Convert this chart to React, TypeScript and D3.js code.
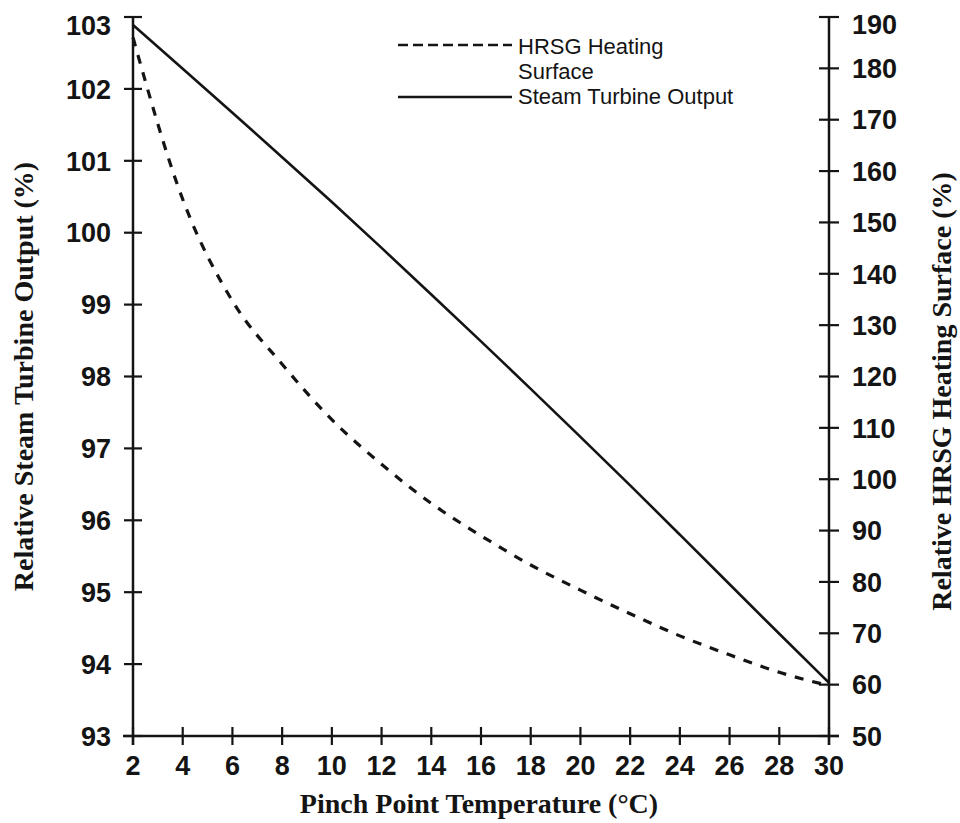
import React from 'react'
import * as d3 from 'd3'

const W = 960
const H = 823

// pinch point temperature (°C)
const temps = [2, 4, 6, 8, 10, 12, 14, 16, 18, 20, 22, 24, 26, 28, 30]
// relative steam turbine output (%), left axis
const turbineOutput = [102.89, 102.28, 101.67, 101.05, 100.43, 99.79, 99.14, 98.49, 97.83, 97.16, 96.49, 95.8, 95.11, 94.42, 93.74]
// relative HRSG heating surface (%), right axis
const heatingSurface = [186, 154.5, 134.7, 122.4, 111.6, 102.9, 95.3, 89, 83.3, 78.4, 73.8, 69.5, 65.8, 62.4, 59.8]

const xTicks = [2, 4, 6, 8, 10, 12, 14, 16, 18, 20, 22, 24, 26, 28, 30]
const leftTicks = [93, 94, 95, 96, 97, 98, 99, 100, 101, 102, 103]
const rightTicks = [50, 60, 70, 80, 90, 100, 110, 120, 130, 140, 150, 160, 170, 180, 190]

const left = 133
const right = 829
const top = 17
const bottom = 736

const x = d3.scaleLinear().domain([2, 30]).range([left, right])
const yL = d3.scaleLinear().domain([93, 103]).range([bottom, top])
const yR = d3.scaleLinear().domain([50, 190]).range([bottom, top])

const ink = '#141414'
const sans = '"Liberation Sans", Arial, sans-serif'
const serif = '"Liberation Serif", "Times New Roman", serif'

export default function App() {
  const solid = d3.line<number>()
    .x((_, i) => x(temps[i]))
    .y(d => yL(d))
    .curve(d3.curveBasis)(turbineOutput)

  const dashed = d3.line<number>()
    .x((_, i) => x(temps[i]))
    .y(d => yR(d))
    .curve(d3.curveMonotoneX)(heatingSurface)

  return (
    <svg width={W} height={H} style={{ position: 'fixed', left: 0, top: 0, background: '#fff' }}>
      <rect width={W} height={H} fill="#fff" />

      {/* left axis */}
      <line x1={left} x2={left} y1={top} y2={bottom + 9} stroke={ink} strokeWidth={2.5} />
      {leftTicks.map((t, i) => (
        <g key={'l' + t}>
          <line x1={left - 9} x2={left + 9} y1={yL(t)} y2={yL(t)} stroke={ink} strokeWidth={2.2} />
          <text x={left - 22} y={yL(t) + (i === leftTicks.length - 1 ? 8 : 0)} dy="0.36em" textAnchor="end"
            style={{ font: `bold 27px ${sans}`, fill: ink }}>{t}</text>
        </g>
      ))}

      {/* right axis */}
      <line x1={right} x2={right} y1={top} y2={bottom + 9} stroke={ink} strokeWidth={2.5} />
      {rightTicks.map((t, i) => (
        <g key={'r' + t}>
          <line x1={right - 10} x2={right + 10} y1={yR(t)} y2={yR(t)} stroke={ink} strokeWidth={2.2} />
          <text x={right + 23} y={yR(t) + (i === rightTicks.length - 1 ? 7 : 0)} dy="0.36em" textAnchor="start"
            style={{ font: `bold 27px ${sans}`, fill: ink }}>{t}</text>
        </g>
      ))}

      {/* bottom axis */}
      <line x1={left - 10} x2={right + 10} y1={bottom} y2={bottom} stroke={ink} strokeWidth={2.5} />
      {xTicks.map(t => (
        <g key={'x' + t}>
          <line x1={x(t)} x2={x(t)} y1={bottom - 9} y2={bottom + 9} stroke={ink} strokeWidth={2.2} />
          <text x={x(t)} y={775} textAnchor="middle" style={{ font: `bold 27px ${sans}`, fill: ink }}>{t}</text>
        </g>
      ))}

      {/* series */}
      <path d={solid ?? ''} fill="none" stroke={ink} strokeWidth={2.6} />
      <path d={dashed ?? ''} fill="none" stroke={ink} strokeWidth={3.2} strokeDasharray="9,9" />

      {/* legend */}
      <line x1={398} x2={512} y1={45} y2={45} stroke={ink} strokeWidth={2.6} strokeDasharray="10,5" />
      <text x={518} y={54} style={{ font: `22px ${sans}`, fill: ink }}>HRSG Heating</text>
      <text x={518} y={79} style={{ font: `22px ${sans}`, fill: ink }}>Surface</text>
      <line x1={398} x2={512} y1={97} y2={97} stroke={ink} strokeWidth={2.4} />
      <text x={518} y={104} style={{ font: `22px ${sans}`, fill: ink }}>Steam Turbine Output</text>

      {/* axis titles */}
      <text x={(left + right) / 2 - 2} y={813} textAnchor="middle"
        style={{ font: `bold 28px ${serif}`, fill: ink }}>Pinch Point Temperature (°C)</text>
      <text transform={`translate(33,${(top + bottom) / 2}) rotate(-90)`} textAnchor="middle"
        style={{ font: `bold 28px ${serif}`, fill: ink }}>Relative Steam Turbine Output (%)</text>
      <text transform={`translate(951,${(top + bottom) / 2 + 15}) rotate(-90)`} textAnchor="middle"
        style={{ font: `bold 28px ${serif}`, fill: ink }}>Relative HRSG Heating Surface (%)</text>
    </svg>
  )
}
